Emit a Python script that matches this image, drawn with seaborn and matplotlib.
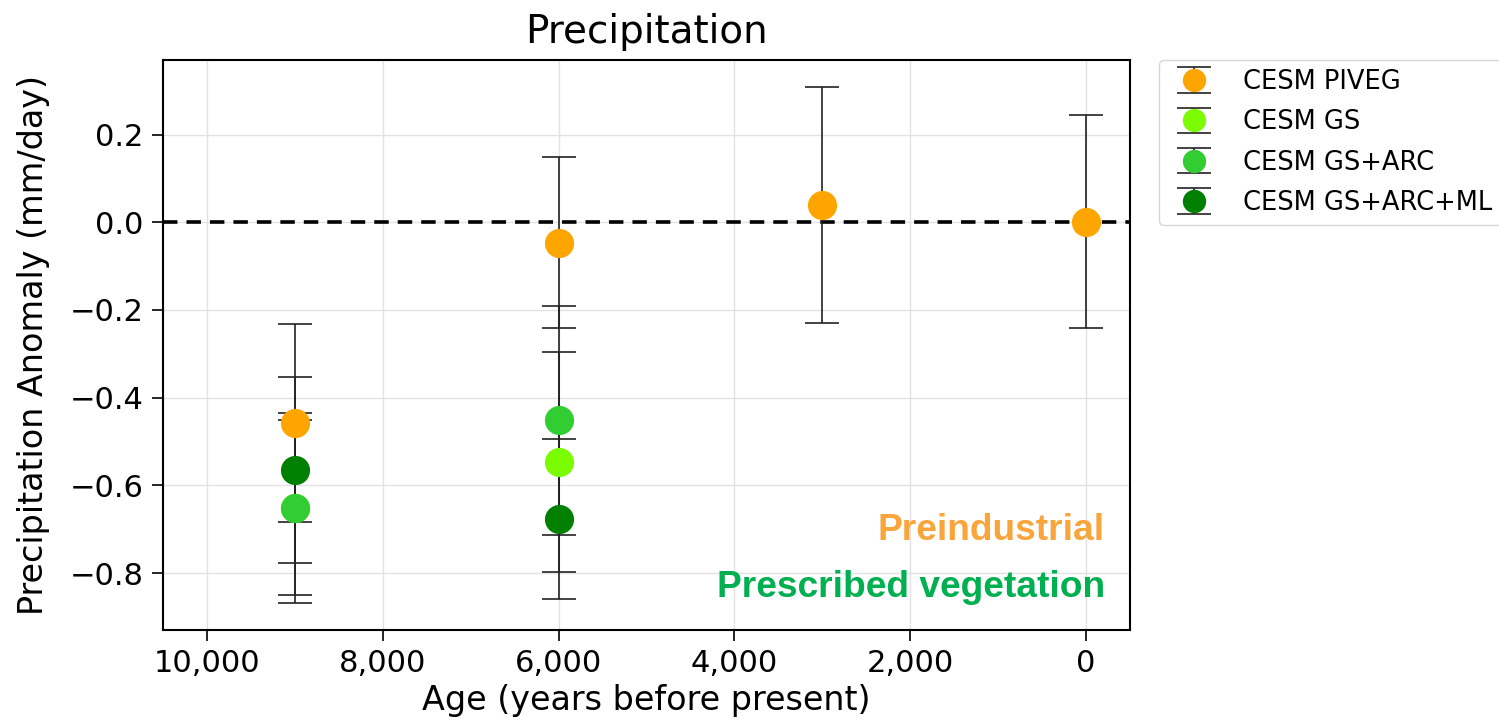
import matplotlib
matplotlib.use("Agg")
import matplotlib.pyplot as plt
import seaborn as sns
import numpy as np

# ---- data ----
series_names = ["CESM PIVEG", "CESM GS", "CESM GS+ARC", "CESM GS+ARC+ML"]
series_colors = ["#FFA500", "#7CFC00", "#32CD32", "#008000"]

piveg_age = [9000, 6000, 3000, 0]
piveg_val = [-0.458, -0.047, 0.040, 0.001]
piveg_err = [0.226, 0.195, 0.269, 0.243]

gs_age = [9000, 6000]
gs_val = [-0.651, -0.547]
gs_err = [0.200, 0.250]

gsarc_age = [9000, 6000]
gsarc_val = [-0.652, -0.452]
gsarc_err = [0.216, 0.261]

gsarcml_age = [9000, 6000]
gsarcml_val = [-0.565, -0.677]
gsarcml_err = [0.213, 0.182]

x_ticks = [10000, 8000, 6000, 4000, 2000, 0]
x_tick_labels = ["10,000", "8,000", "6,000", "4,000", "2,000", "0"]
y_ticks = [0.2, 0.0, -0.2, -0.4, -0.6, -0.8]

sns.set_theme(style="whitegrid")
plt.rcParams["font.family"] = ["DejaVu Sans"]
plt.rcParams["text.color"] = "black"
plt.rcParams["axes.labelcolor"] = "black"
plt.rcParams["xtick.color"] = "black"
plt.rcParams["ytick.color"] = "black"

fig = plt.figure(figsize=(14.99, 7.28), dpi=100)
ax = fig.add_axes([0.1087, 0.1346, 0.6451, 0.7830])

all_series = [
    (piveg_age, piveg_val, piveg_err),
    (gs_age, gs_val, gs_err),
    (gsarc_age, gsarc_val, gsarc_err),
    (gsarcml_age, gsarcml_val, gsarcml_err),
]

ax.axhline(0, color="black", lw=2.6, ls=(0, (4, 2.5)), zorder=2)

for (age, val, err), name, col in zip(all_series, series_names, series_colors):
    cont = ax.errorbar(age, val, yerr=err, fmt="o", color=col, ms=21,
                       markeredgecolor=col, ecolor="#222222", elinewidth=1.2,
                       capsize=12, capthick=1.2, label=name, zorder=3)
    cont.lines[0].set_zorder(5)
    cont.lines[0].set_markeredgewidth(0)

ax.set_xlim(10500, -500)
ax.set_ylim(-0.93, 0.37)
ax.set_xticks(x_ticks)
ax.set_xticklabels(x_tick_labels)
ax.set_yticks(y_ticks)
ax.set_yticklabels([f"{v:.1f}".replace("-", "\u2212") for v in y_ticks])

ax.tick_params(axis="both", labelsize=22, length=8, width=1.2, color="black",
               direction="out", bottom=True, left=True, pad=6)
ax.grid(True, color="#e2e2e2", lw=1)
for s in ax.spines.values():
    s.set_color("black")
    s.set_linewidth(1.5)

ax.set_xlabel("Age (years before present)", fontsize=24, labelpad=4)
ax.set_ylabel("Precipitation Anomaly (mm/day)", fontsize=24, labelpad=14)
ax.set_title("Precipitation", fontsize=28, pad=12)

ax.text(0.974, 0.175, "Preindustrial", transform=ax.transAxes, ha="right",
        va="center", fontsize=26.7, fontweight="bold", color="#F9A53B",
        family="Liberation Sans")
ax.text(0.974, 0.075, "Prescribed vegetation", transform=ax.transAxes,
        ha="right", va="center", fontsize=26.7, fontweight="bold",
        color="#00AF50", family="Liberation Sans")

leg = ax.legend(loc="upper left", bbox_to_anchor=(1.017, 1.022), fontsize=18.5,
                frameon=True, borderpad=0.35, labelspacing=0.55,
                handletextpad=0.9, markerscale=0.8, handlelength=2.0)
leg.get_frame().set_edgecolor("#cccccc")

fig.savefig("out.png", dpi=100)
